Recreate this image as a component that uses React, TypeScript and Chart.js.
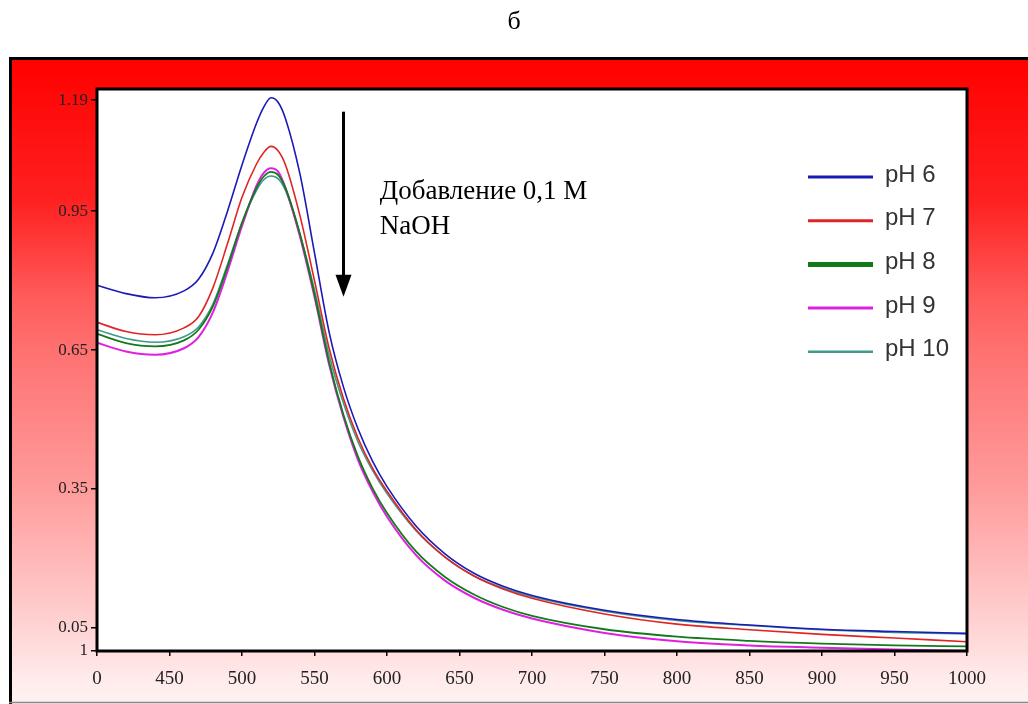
import React, { useEffect, useRef } from "react";
import { Chart, registerables } from "chart.js";
Chart.register(...registerables);

const wavelengths = [400, 420, 440, 460, 470, 480, 490, 500, 510, 515, 520, 525, 530, 540, 550, 560, 570, 580, 590, 600, 620, 640, 660, 680, 700, 750, 800, 850, 900, 950, 1000];
const ph6 = [0.79, 0.772, 0.763, 0.778, 0.803, 0.86, 0.95, 1.05, 1.14, 1.175, 1.195, 1.185, 1.15, 1.03, 0.86, 0.69, 0.57, 0.48, 0.41, 0.355, 0.27, 0.21, 0.168, 0.14, 0.12, 0.088, 0.068, 0.056, 0.047, 0.042, 0.038];
const ph7 = [0.71, 0.69, 0.683, 0.698, 0.722, 0.785, 0.88, 0.98, 1.052, 1.077, 1.09, 1.08, 1.05, 0.94, 0.80, 0.655, 0.545, 0.46, 0.395, 0.345, 0.262, 0.203, 0.162, 0.134, 0.114, 0.08, 0.058, 0.046, 0.036, 0.028, 0.02];
const ph8 = [0.685, 0.665, 0.658, 0.671, 0.694, 0.745, 0.83, 0.925, 1.0, 1.025, 1.035, 1.028, 1.0, 0.90, 0.77, 0.625, 0.51, 0.42, 0.352, 0.298, 0.215, 0.16, 0.122, 0.095, 0.076, 0.047, 0.031, 0.022, 0.016, 0.012, 0.01];
const ph9 = [0.666, 0.647, 0.64, 0.654, 0.678, 0.732, 0.82, 0.918, 1.005, 1.033, 1.043, 1.035, 1.0, 0.895, 0.765, 0.62, 0.505, 0.413, 0.345, 0.29, 0.207, 0.152, 0.115, 0.089, 0.07, 0.039, 0.021, 0.012, 0.007, 0.003, 0.0];
const ph10 = [0.694, 0.675, 0.667, 0.679, 0.70, 0.75, 0.835, 0.925, 0.995, 1.018, 1.026, 1.02, 0.995, 0.90, 0.78, 0.64, 0.535, 0.452, 0.39, 0.34, 0.26, 0.203, 0.162, 0.136, 0.117, 0.086, 0.066, 0.055, 0.046, 0.04, 0.037];

const seriesLabels = ["pH 6", "pH 7", "pH 8", "pH 9", "pH 10"];
const seriesValues = [ph6, ph7, ph8, ph9, ph10];
const seriesColors = ["#1a1ab8", "#e02424", "#137a1a", "#e020e0", "#3f9a8c"];
const seriesWidths = [1.6, 1.6, 1.8, 2, 1.6];
const legendWidths = [3, 3, 5, 3, 2.5];

const xTicks = [400, 450, 500, 550, 600, 650, 700, 750, 800, 850, 900, 950, 1000];
const xTickLabels = ["0", "450", "500", "550", "600", "650", "700", "750", "800", "850", "900", "950", "1000"];
const yTicks = [0, 0.05, 0.35, 0.65, 0.95, 1.19];
const yTickLabels = ["1", "0.05", "0.35", "0.65", "0.95", "1.19"];

const titleText = "б";
const noteLines = ["Добавление 0,1 М", "NaOH"];
const arrowX = 570;
const arrowTop = 1.165;
const arrowBottom = 0.765;
const noteX = 595;
const noteY = [0.992, 0.916];

const SERIF = '"Liberation Serif", "Times New Roman", serif';
const SANS = '"Liberation Sans", Arial, sans-serif';

const framePlugin = {
  id: "frame",
  beforeDraw(chart: any) {
    const { ctx, width, height, chartArea } = chart;
    ctx.save();
    ctx.fillStyle = "#ffffff";
    ctx.fillRect(0, 0, width, height);
    const g = ctx.createLinearGradient(0, 57, 0, height);
    g.addColorStop(0, "#ff0000");
    g.addColorStop(0.22, "#ff2020");
    g.addColorStop(0.375, "#ff5c5c");
    g.addColorStop(0.45, "#ff7070");
    g.addColorStop(0.67, "#ff9c9c");
    g.addColorStop(0.84, "#ffc8c8");
    g.addColorStop(0.96, "#ffeaea");
    g.addColorStop(1, "#fff2f2");
    ctx.fillStyle = g;
    ctx.fillRect(9, 57, width - 9, height - 57);
    ctx.strokeStyle = "#000";
    ctx.lineWidth = 3;
    ctx.beginPath();
    ctx.moveTo(9, 58.5);
    ctx.lineTo(width, 58.5);
    ctx.moveTo(10.5, 57);
    ctx.lineTo(10.5, height);
    ctx.stroke();
    ctx.strokeStyle = "#888";
    ctx.lineWidth = 1.5;
    ctx.beginPath();
    ctx.moveTo(9, height - 1.5);
    ctx.lineTo(width, height - 1.5);
    ctx.stroke();
    ctx.fillStyle = "#ffffff";
    ctx.fillRect(chartArea.left, chartArea.top, chartArea.right - chartArea.left, chartArea.bottom - chartArea.top);
    ctx.fillStyle = "#000";
    ctx.font = "26px " + SERIF;
    ctx.textAlign = "center";
    ctx.textBaseline = "middle";
    ctx.fillText(titleText, width / 2, 22);
    ctx.restore();
  },
  afterDraw(chart: any) {
    const { ctx, chartArea, scales } = chart;
    ctx.save();
    ctx.strokeStyle = "#000";
    ctx.lineWidth = 3;
    ctx.strokeRect(chartArea.left, chartArea.top, chartArea.right - chartArea.left, chartArea.bottom - chartArea.top);

    // arrow
    const ax = scales.x.getPixelForValue(arrowX);
    const ay1 = scales.y.getPixelForValue(arrowTop);
    const ay2 = scales.y.getPixelForValue(arrowBottom);
    ctx.lineWidth = 3;
    ctx.beginPath();
    ctx.moveTo(ax, ay1);
    ctx.lineTo(ax, ay2 - 18);
    ctx.stroke();
    ctx.fillStyle = "#000";
    ctx.beginPath();
    ctx.moveTo(ax - 8, ay2 - 22);
    ctx.lineTo(ax + 8, ay2 - 22);
    ctx.lineTo(ax, ay2);
    ctx.closePath();
    ctx.fill();

    // note text
    ctx.font = "27px " + SERIF;
    ctx.textAlign = "left";
    ctx.textBaseline = "middle";
    const nx = scales.x.getPixelForValue(noteX);
    noteLines.forEach((t, i) => {
      ctx.fillText(t, nx, scales.y.getPixelForValue(noteY[i]));
    });

    // legend
    const lx1 = 808, lx2 = 873, tx = 885;
    chart.data.datasets.forEach((ds: any, i: number) => {
      const y = chartArea.top + 88 + i * 43.7;
      ctx.strokeStyle = ds.borderColor;
      ctx.lineWidth = legendWidths[i];
      ctx.beginPath();
      ctx.moveTo(lx1, y);
      ctx.lineTo(lx2, y);
      ctx.stroke();
      ctx.fillStyle = "#333";
      ctx.font = "24px " + SANS;
      ctx.fillText(ds.label, tx, y - 2);
    });
    ctx.restore();
  },
};

export default function App() {
  const ref = useRef<HTMLCanvasElement>(null);
  useEffect(() => {
    if (!ref.current) return;
    const chart = new Chart(ref.current, {
      type: "line",
      data: {
        datasets: seriesLabels.map((label, i) => ({
          label,
          data: wavelengths.map((x, j) => ({ x, y: seriesValues[i][j] })),
          borderColor: seriesColors[i],
          backgroundColor: seriesColors[i],
          borderWidth: seriesWidths[i],
          pointRadius: 0,
          cubicInterpolationMode: "monotone" as const,
          fill: false,
        })),
      },
      options: {
        animation: false,
        responsive: false,
        devicePixelRatio: 1,
        layout: { padding: { left: 0, top: 89, right: 61, bottom: 0 } },
        plugins: { legend: { display: false }, tooltip: { enabled: false }, title: { display: false } },
        scales: {
          x: {
            type: "linear",
            min: 400,
            max: 1000,
            afterBuildTicks: (s: any) => { s.ticks = xTicks.map((v) => ({ value: v })); },
            afterFit: (s: any) => { s.height = 53; },
            ticks: {
              autoSkip: false,
              maxRotation: 0,
              padding: 12,
              color: "#222",
              font: { family: SERIF, size: 19 },
              callback: (v: any) => xTickLabels[xTicks.indexOf(Number(v))] ?? "",
            },
            grid: { display: true, drawOnChartArea: false, drawTicks: true, tickLength: 5, color: "#000", lineWidth: 1.5 },
            border: { display: false },
          },
          y: {
            type: "linear",
            min: 0,
            max: 1.214,
            afterBuildTicks: (s: any) => { s.ticks = yTicks.map((v) => ({ value: v })); },
            afterFit: (s: any) => { s.width = 97; },
            ticks: {
              autoSkip: false,
              padding: 3,
              color: "#222",
              font: { family: SERIF, size: 17 },
              callback: (v: any) => yTickLabels[yTicks.indexOf(Number(v))] ?? "",
            },
            grid: { display: true, drawOnChartArea: false, drawTicks: true, tickLength: 6, color: "#000", lineWidth: 1.5 },
            border: { display: false },
          },
        },
      },
      plugins: [framePlugin],
    });
    return () => chart.destroy();
  }, []);
  return (
    <canvas
      ref={ref}
      width={1028}
      height={704}
      style={{ position: "absolute", left: 0, top: 0, width: 1028, height: 704 }}
    />
  );
}
